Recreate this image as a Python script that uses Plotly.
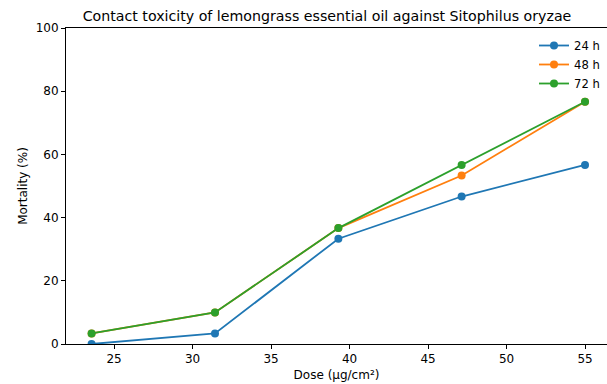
import plotly.graph_objects as go

dose = [23.57, 31.43, 39.29, 47.14, 55.0]
mort_24h = [0.0, 3.33, 33.33, 46.67, 56.67]
mort_48h = [3.33, 10.0, 36.67, 53.33, 76.67]
mort_72h = [3.33, 10.0, 36.67, 56.67, 76.67]
series_names = ["24 h", "48 h", "72 h"]
colors = ["#1f77b4", "#ff7f0e", "#2ca02c"]

W, H = 607, 384
ml, mr, mt, mb = 66, 0, 28, 40

fig = go.Figure()
for name, ys, c in zip(series_names, [mort_24h, mort_48h, mort_72h], colors):
    fig.add_trace(go.Scatter(x=dose, y=ys, name=name, mode="lines+markers",
                             line=dict(color=c, width=1.8),
                             marker=dict(color=c, size=8)))

font = "DejaVu Sans, sans-serif"
fig.update_layout(
    width=W, height=H,
    margin=dict(l=ml, r=mr, t=mt, b=mb, pad=0, autoexpand=False),
    plot_bgcolor="white", paper_bgcolor="white",
    font=dict(family=font, size=12, color="black"),
    title=dict(text="Contact toxicity of lemongrass essential oil against Sitophilus oryzae",
               x=327 / W, xanchor="center", y=1 - 16 / H, yanchor="middle",
               font=dict(size=14.2, family=font, color="black")),
    showlegend=True,
    legend=dict(x=1 - 2 / (W - ml - mr), xanchor="right", y=1 - 3 / (H - mt - mb), yanchor="top",
                bgcolor="rgba(255,255,255,0)", font=dict(size=11.6, family=font),
                tracegroupgap=0, itemwidth=30),
)
fig.update_xaxes(range=[21.94, 56.4], tickvals=[25, 30, 35, 40, 45, 50, 55],
                 showgrid=False, zeroline=False, showline=True, linecolor="black",
                 linewidth=1, mirror=True, ticks="outside", ticklen=4, tickcolor="black",
                 title=dict(text="Dose (µg/cm²)", standoff=5, font=dict(size=12)))
fig.update_yaxes(range=[0, 100], tickvals=[0, 20, 40, 60, 80, 100],
                 showgrid=False, zeroline=False, showline=True, linecolor="black",
                 linewidth=1, ticks="outside", ticklen=4, tickcolor="black",
                 title=dict(text="Mortality (%)", standoff=5, font=dict(size=12)))
fig.write_html("out.html", config={"displayModeBar": False},
               post_script="document.body.style.margin='0';document.body.style.overflow='hidden';")
